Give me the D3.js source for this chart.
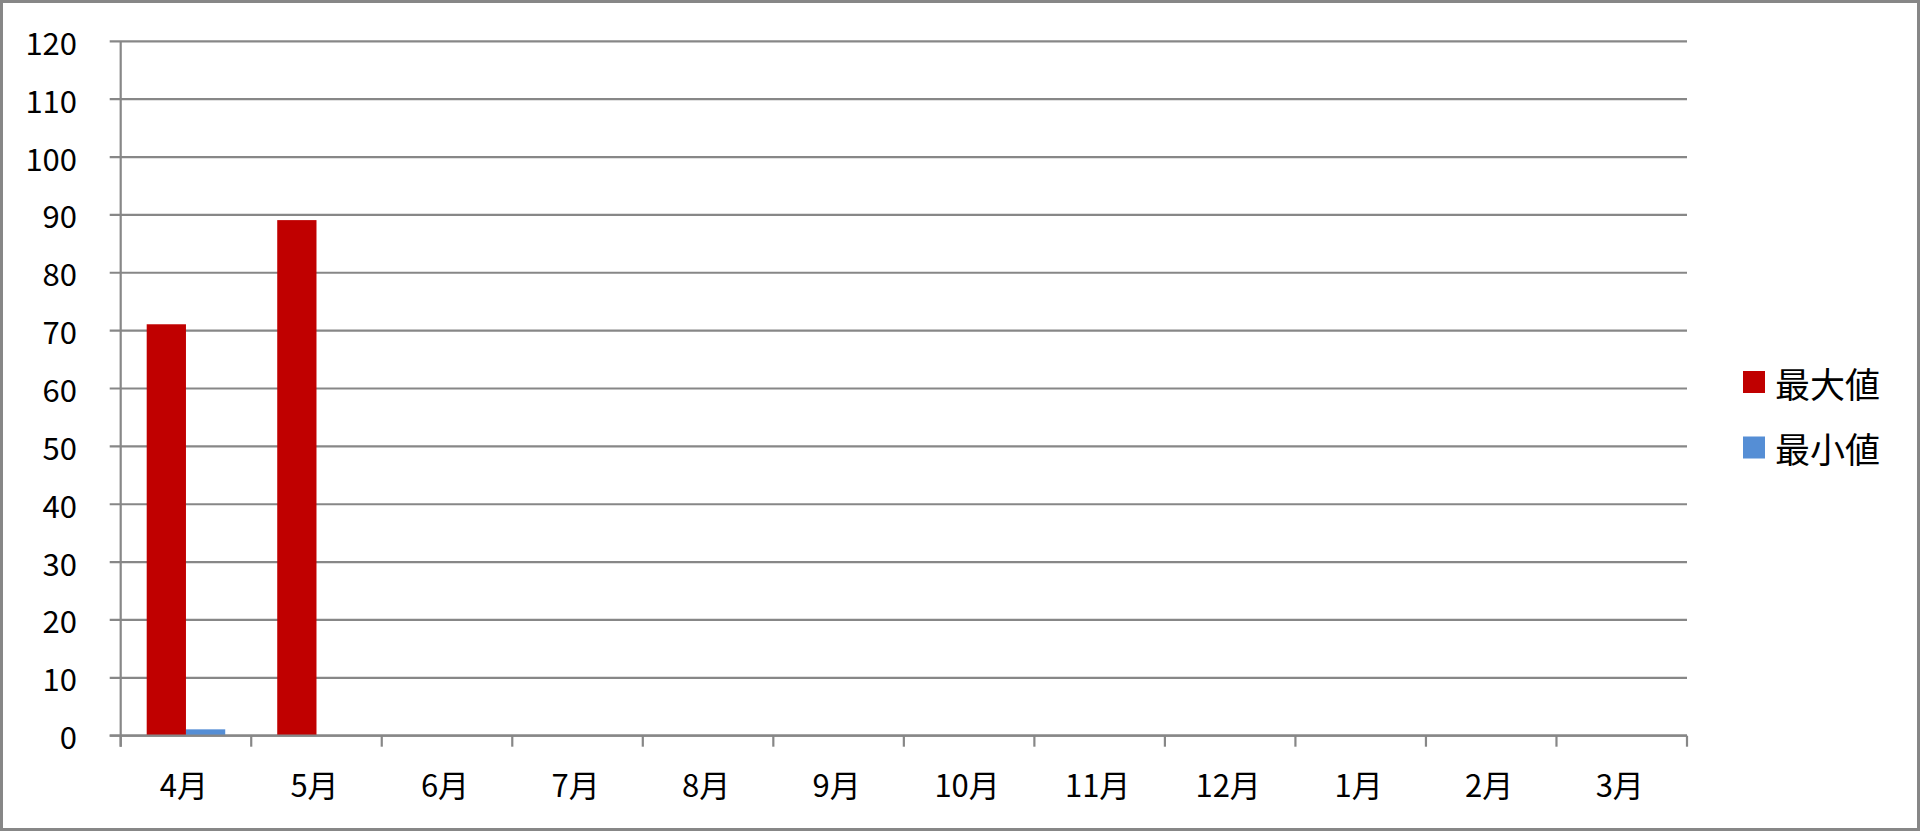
<!DOCTYPE html>
<html>
<head>
<meta charset="utf-8">
<script src="https://cdn.jsdelivr.net/npm/d3@7"></script>
<style>
  html, body { margin: 0; padding: 0; background: #fff; }
  svg { display: block; }
  text { font-family: "Noto Sans CJK JP", "Noto Sans", sans-serif; fill: #000; }
</style>
</head>
<body>
<svg id="chart" width="1920" height="831"></svg>
<script>
// ---------------------------------------------
// Data
// ---------------------------------------------
let months = ['4月', '5月', '6月', '7月', '8月', '9月', '10月', '11月', '12月', '1月', '2月', '3月'];
let seriesNames = ['最大値', '最小値'];
let maxValues = [71.1, 89.1, null, null, null, null, null, null, null, null, null, null];
let minValues = [1.1, null, null, null, null, null, null, null, null, null, null, null];
let yTicks = [0, 10, 20, 30, 40, 50, 60, 70, 80, 90, 100, 110, 120];
let colors = ['#C00000', '#558ED5'];

// ---------------------------------------------
// Layout
// ---------------------------------------------
let svg = d3.select('#chart');
let plotLeft = 120.7, plotRight = 1687, plotTop = 41.3, plotBottom = 735.7;
let gridColor = '#878787';

// outer frame
svg.append('rect')
    .attr('x', 1.5).attr('y', 1.5)
    .attr('width', 1917).attr('height', 828)
    .attr('fill', 'none')
    .attr('stroke', gridColor)
    .attr('stroke-width', 3);

let x = d3.scaleBand().domain(months).range([plotLeft, plotRight]);
let xInner = d3.scaleBand().domain(seriesNames)
    .range([26, x.bandwidth() - 26]);
let y = d3.scaleLinear().domain([0, 120]).range([plotBottom, plotTop]);

// gridlines (they also act as the y tick marks)
svg.append('g').selectAll('line').data(yTicks).join('line')
    .attr('x1', plotLeft - 11).attr('x2', plotRight)
    .attr('y1', d => y(d)).attr('y2', d => y(d))
    .attr('stroke', gridColor).attr('stroke-width', 2.2);

// y labels
svg.append('g').selectAll('text').data(yTicks).join('text')
    .attr('x', 77).attr('y', d => y(d))
    .attr('text-anchor', 'end')
    .attr('dominant-baseline', 'central')
    .attr('font-size', 31)
    .text(d => d);

// bars
let series = [maxValues, minValues];
series.forEach((values, s) => {
  svg.append('g').selectAll('rect')
      .data(months.map((m, i) => ({month: m, value: values[i]})).filter(d => d.value != null))
      .join('rect')
      .attr('x', d => x(d.month) + xInner(seriesNames[s]))
      .attr('width', xInner.bandwidth())
      .attr('y', d => y(d.value))
      .attr('height', d => y(0) - y(d.value))
      .attr('fill', colors[s]);
});

// y axis line
svg.append('line')
    .attr('x1', plotLeft).attr('x2', plotLeft)
    .attr('y1', plotTop).attr('y2', plotBottom + 11)
    .attr('stroke', gridColor).attr('stroke-width', 2.2);

// x axis line and tick marks at category edges
svg.append('line')
    .attr('x1', plotLeft - 11).attr('x2', plotRight)
    .attr('y1', plotBottom).attr('y2', plotBottom)
    .attr('stroke', gridColor).attr('stroke-width', 2.2);

let edges = months.map(m => x(m)).concat([plotRight]);
svg.append('g').selectAll('line').data(edges).join('line')
    .attr('x1', d => d).attr('x2', d => d)
    .attr('y1', plotBottom).attr('y2', plotBottom + 11)
    .attr('stroke', gridColor).attr('stroke-width', 2.2);

// x labels
svg.append('g').selectAll('text').data(months).join('text')
    .attr('x', d => x(d) + x.bandwidth() / 2 - 2)
    .attr('y', 783)
    .attr('text-anchor', 'middle')
    .attr('dominant-baseline', 'central')
    .attr('font-size', 31)
    .text(d => d);

// legend
let legend = svg.append('g').selectAll('g').data(seriesNames).join('g')
    .attr('transform', (d, i) => `translate(1743, ${382 + i * 65.5})`);
legend.append('rect')
    .attr('x', 0).attr('y', -11)
    .attr('width', 22).attr('height', 22)
    .attr('fill', (d, i) => colors[i]);
legend.append('text')
    .attr('x', 32).attr('y', 0)
    .attr('dominant-baseline', 'central')
    .attr('font-size', 35)
    .text(d => d);
</script>
</body>
</html>
